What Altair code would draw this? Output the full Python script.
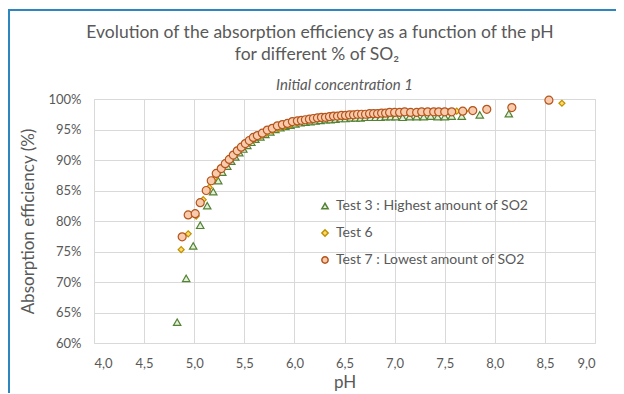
import altair as alt
import pandas as pd

# ---- data ----
series_names = ["Test 3 : Highest amount of SO2", "Test 6", "Test 7 : Lowest amount of SO2"]

t3_ph = [4.83, 4.92, 4.99, 5.06, 5.13, 5.19, 5.24, 5.28, 5.33, 5.37, 5.41, 5.45, 5.49, 5.53,
         5.57, 5.61, 5.66, 5.71, 5.76, 5.81, 5.86, 5.91, 5.96, 6.01, 6.06, 6.11, 6.16, 6.21,
         6.26, 6.31, 6.36, 6.41, 6.46, 6.51, 6.56, 6.61, 6.66, 6.71, 6.76, 6.81, 6.86, 6.91,
         6.96, 7.01, 7.08, 7.15, 7.22, 7.29, 7.36, 7.43, 7.50, 7.57, 7.67, 7.85, 8.14]
t3_eff = [63.4, 70.6, 75.9, 79.3, 82.5, 84.8, 86.6, 88.0, 89.0, 89.8, 90.5, 91.2, 91.8, 92.4,
          92.9, 93.4, 93.8, 94.2, 94.6, 95.0, 95.3, 95.5, 95.7, 95.9, 96.1, 96.2, 96.3, 96.4,
          96.5, 96.6, 96.6, 96.7, 96.8, 96.8, 96.9, 96.9, 96.9, 97.0, 97.0, 97.0, 97.0, 97.1,
          97.1, 97.1, 97.0, 97.1, 97.1, 97.1, 97.2, 97.1, 97.1, 97.2, 97.2, 97.4, 97.6]

t6_ph = [4.87, 4.94, 5.02, 5.09, 5.15, 5.20, 5.25, 5.30, 5.35, 5.40, 5.45, 5.50, 5.55, 5.60,
         5.66, 5.72, 5.78, 5.84, 5.90, 5.96, 6.02, 6.10, 6.18, 6.26, 6.34, 6.42, 6.50, 6.58,
         6.66, 6.74, 6.82, 6.90, 6.98, 7.06, 7.14, 7.22, 7.30, 7.38, 7.46, 7.54, 7.62, 7.70,
         7.77, 8.67]
t6_eff = [75.3, 77.9, 80.8, 83.5, 85.5, 87.0, 88.2, 89.2, 90.1, 90.9, 91.6, 92.3, 92.9, 93.4,
          93.9, 94.4, 94.8, 95.2, 95.5, 95.8, 96.1, 96.4, 96.6, 96.8, 97.0, 97.1, 97.2, 97.3,
          97.4, 97.5, 97.5, 97.6, 97.6, 97.7, 97.7, 97.8, 97.8, 97.8, 97.9, 97.9, 98.0, 98.0,
          98.2, 99.3]

t7_ph = [4.88, 4.94, 5.01, 5.06, 5.12, 5.17, 5.22, 5.27, 5.31, 5.35, 5.39, 5.43, 5.47, 5.51,
         5.55, 5.59, 5.63, 5.68, 5.73, 5.78, 5.83, 5.88, 5.93, 5.98, 6.03, 6.07, 6.11, 6.15,
         6.19, 6.23, 6.27, 6.31, 6.35, 6.39, 6.43, 6.47, 6.51, 6.55, 6.59, 6.63, 6.67, 6.71,
         6.75, 6.79, 6.83, 6.87, 6.91, 6.95, 7.00, 7.05, 7.10, 7.16, 7.22, 7.27, 7.33, 7.39,
         7.44, 7.50, 7.57, 7.68, 7.78, 7.92, 8.17, 8.54]
t7_eff = [77.4, 81.0, 81.2, 83.0, 85.0, 86.6, 87.8, 88.6, 89.4, 90.1, 90.8, 91.5, 92.1, 92.7,
          93.2, 93.7, 94.0, 94.4, 94.9, 95.2, 95.6, 95.8, 96.0, 96.3, 96.4, 96.5, 96.6, 96.7,
          96.8, 96.9, 97.0, 97.0, 97.1, 97.2, 97.2, 97.3, 97.3, 97.4, 97.4, 97.5, 97.5, 97.5,
          97.6, 97.6, 97.6, 97.7, 97.7, 97.8, 97.8, 97.8, 97.9, 97.8, 97.8, 97.9, 97.9, 97.9,
          97.9, 97.9, 97.9, 98.0, 98.1, 98.3, 98.6, 99.8]

x_ticks = [4.0, 4.5, 5.0, 5.5, 6.0, 6.5, 7.0, 7.5, 8.0, 8.5, 9.0]
y_ticks = [60, 65, 70, 75, 80, 85, 90, 95, 100]

title_line1 = "Evolution of the absorption efficiency as a function of the pH"
title_line2 = "for different % of SO\u2082"
subtitle_text = "Initial concentration 1"

# ---- build table ----
rows = []
for name, phs, effs in zip(series_names, [t3_ph, t6_ph, t7_ph], [t3_eff, t6_eff, t7_eff]):
    for p, e in zip(phs, effs):
        rows.append({"series": name, "ph": p, "eff": e})
df = pd.DataFrame(rows)

FONT = "Lato"
GREY = "#595959"
W, H = 501, 244
PAD_L, PAD_T, PAD_R, PAD_B = 86, 91, 21, 50

shape_scale = alt.Scale(domain=series_names, range=["triangle-up", "diamond", "circle"])
fill_scale = alt.Scale(domain=series_names, range=["#e2f0d9", "#ffd966", "#f8cbad"])
stroke_scale = alt.Scale(domain=series_names, range=["#548235", "#bf9000", "#b5541c"])

x_enc = alt.X("ph:Q", scale=alt.Scale(domain=[4, 9], nice=False, zero=False),
              axis=alt.Axis(values=x_ticks, title="pH",
                            labelExpr="replace(format(datum.value, '.1f'), '.', ',')"))
y_enc = alt.Y("eff:Q", scale=alt.Scale(domain=[60, 100], nice=False, zero=False),
              axis=alt.Axis(values=y_ticks, title="Absorption efficiency (%)",
                            labelExpr="datum.value + '%'"))

marker_sizes = {series_names[0]: 55, series_names[1]: 36, series_names[2]: 64}

layers = []
for name in series_names:
    layers.append(
        alt.Chart(df[df["series"] == name]).mark_point(
            filled=True, opacity=1, strokeWidth=1.2, size=marker_sizes[name]
        ).encode(
            x=x_enc, y=y_enc,
            shape=alt.Shape("series:N", scale=shape_scale, title=None),
            fill=alt.Fill("series:N", scale=fill_scale, title=None),
            stroke=alt.Stroke("series:N", scale=stroke_scale, title=None),
        )
    )

one = pd.DataFrame({"k": [0]})
title1 = alt.Chart(one).mark_text(
    text=title_line1, font=FONT, fontSize=17.5, color=GREY, baseline="middle", align="center"
).encode(x=alt.value(226), y=alt.value(-66))
title2 = alt.Chart(one).mark_text(
    text=title_line2, font=FONT, fontSize=17.5, color=GREY, baseline="middle", align="center"
).encode(x=alt.value(223), y=alt.value(-44))
subtitle = alt.Chart(one).mark_text(
    text=subtitle_text, font=FONT, fontSize=15, fontStyle="italic", color=GREY,
    baseline="middle", align="center"
).encode(x=alt.value(W / 2), y=alt.value(-14))

frame_left = alt.Chart(one).mark_rule(color="#2e86c1", strokeWidth=2).encode(
    x=alt.value(-PAD_L + 1), y=alt.value(-PAD_T + 2), y2=alt.value(H + PAD_B))
frame_top = alt.Chart(one).mark_rule(color="#2e86c1", strokeWidth=2).encode(
    x=alt.value(-PAD_L), x2=alt.value(W + PAD_R), y=alt.value(-PAD_T + 2))

chart = alt.layer(*layers, title1, title2, subtitle, frame_left, frame_top).properties(
    width=W, height=H,
    autosize=alt.AutoSizeParams(type="none"),
    padding={"left": PAD_L, "top": PAD_T, "right": PAD_R, "bottom": PAD_B},
).configure_view(stroke="#d9d9d9", strokeWidth=1).configure_axis(
    grid=True, gridColor="#d9d9d9", gridWidth=1, domain=False, ticks=False, tickSize=0,
    labelFont=FONT, labelFontSize=13, labelColor=GREY, labelPadding=13,
    titleFont=FONT, titleFontSize=17, titleFontWeight="normal", titleColor=GREY,
).configure_axisX(titlePadding=4, labelPadding=14).configure_axisY(titlePadding=10).configure_legend(
    orient="none", legendX=224, legendY=100, padding=0, offset=0,
    labelFont=FONT, labelFontSize=14, labelColor=GREY, labelLimit=0, symbolSize=40,
    symbolStrokeWidth=1.5, rowPadding=13, labelOffset=4, title=None,
)

chart.save("out.html", embed_options={"renderer": "svg", "actions": False})
